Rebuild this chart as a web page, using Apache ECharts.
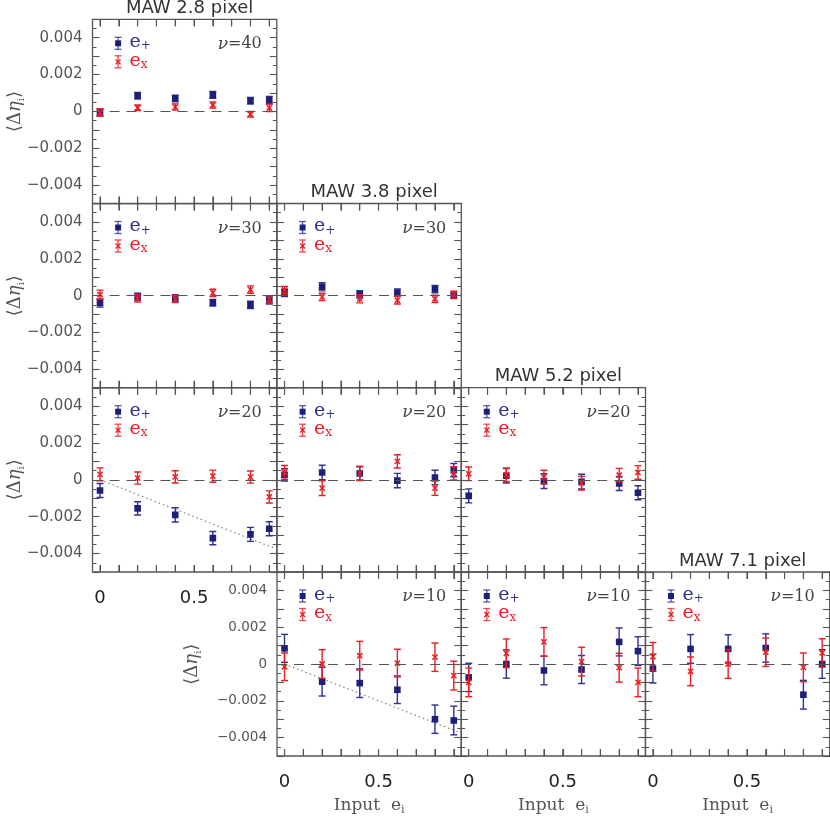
<!DOCTYPE html>
<html>
<head>
<meta charset="utf-8">
<title>MAW ellipticity bias</title>
<script src="https://cdn.jsdelivr.net/npm/echarts@6/dist/echarts.min.js"></script>
<style>
  html, body { margin: 0; padding: 0; background: #fff; }
  #chart { width: 830px; height: 817px; }
</style>
</head>
<body>
<div id="chart"></div>
<script>
// input ellipticity of the simulations
const inputE = [0, 0.2, 0.4, 0.6, 0.8, 0.9]

// axis ticks and tick labels
const xTickValues = [0, 0.1, 0.2, 0.3, 0.4, 0.5, 0.6, 0.7, 0.8, 0.9]
const xLabelValues = [0, 0.5]

// MAW 2.8 pixel, nu = 40
const plus_28_40 = [-0.00005, 0.00085, 0.0007, 0.0009, 0.00058, 0.00062]
const plusErr_28_40 = [0.0002, 0.00018, 0.00018, 0.00018, 0.00018, 0.0002]
const cross_28_40 = [-0.00005, 0.0002, 0.00024, 0.00035, -0.00015, 0.0002]
const crossErr_28_40 = [0.0002, 0.00015, 0.00017, 0.00017, 0.00015, 0.0002]

// MAW 2.8 pixel, nu = 30
const plus_28_30 = [-0.0004, -0.00007, -0.00015, -0.00038, -0.0005, -0.00025]
const plusErr_28_30 = [0.00022, 0.0002, 0.0002, 0.00018, 0.0002, 0.0002]
const cross_28_30 = [0.00005, -0.00015, -0.00018, 0.00015, 0.00033, -0.0002]
const crossErr_28_30 = [0.00025, 0.0002, 0.0002, 0.0002, 0.0002, 0.0002]

// MAW 3.8 pixel, nu = 30
const plus_38_30 = [0.00015, 0.00048, 0.00007, 0.00017, 0.00035, 0]
const plusErr_38_30 = [0.0002, 0.00022, 0.0002, 0.0002, 0.0002, 0.00015]
const cross_38_30 = [0.0003, -0.00007, -0.00017, -0.00025, -0.00017, 0.00004]
const crossErr_38_30 = [0.0002, 0.0002, 0.00022, 0.0002, 0.0002, 0.0002]

// MAW 2.8 pixel, nu = 20
const plus_28_20 = [-0.00058, -0.00155, -0.0019, -0.00316, -0.00296, -0.00265]
const plusErr_28_20 = [0.00038, 0.00036, 0.00039, 0.00036, 0.00038, 0.00038]
const cross_28_20 = [0.0003, 0.0001, 0.00016, 0.0002, 0.00015, -0.00093]
const crossErr_28_20 = [0.00035, 0.00033, 0.00033, 0.00033, 0.00033, 0.00033]

// MAW 3.8 pixel, nu = 20
const plus_38_20 = [0.00027, 0.0004, 0.00035, -0.00004, 0.00013, 0.00053]
const plusErr_38_20 = [0.00033, 0.00039, 0.00036, 0.00039, 0.00039, 0.00036]
const cross_38_20 = [0.0004, -0.00045, 0.00035, 0.001, -0.00045, 0.00035]
const crossErr_38_20 = [0.00038, 0.0004, 0.00039, 0.00036, 0.00039, 0.00036]

// MAW 5.2 pixel, nu = 20
const plus_52_20 = [-0.00087, 0.00022, -0.00007, -0.0001, -0.0002, -0.0007]
const plusErr_52_20 = [0.00038, 0.00039, 0.0004, 0.0004, 0.00038, 0.00038]
const cross_52_20 = [0.00033, 0.00027, 0.00015, -0.00018, 0.00025, 0.0004]
const crossErr_52_20 = [0.00037, 0.00037, 0.00037, 0.00037, 0.00037, 0.00037]

// MAW 3.8 pixel, nu = 10
const plus_38_10 = [0.00085, -0.00096, -0.00104, -0.0014, -0.003, -0.00307]
const plusErr_38_10 = [0.00076, 0.00078, 0.00078, 0.00075, 0.00077, 0.00078]
const cross_38_10 = [-0.00015, 0, 0.00045, 0.00005, 0.00037, -0.00063]
const crossErr_38_10 = [0.00075, 0.00078, 0.00078, 0.00075, 0.00077, 0.00078]

// MAW 5.2 pixel, nu = 10
const plus_52_10 = [-0.00073, 0, -0.00035, -0.0003, 0.0012, 0.0007]
const plusErr_52_10 = [0.00077, 0.00077, 0.00078, 0.00076, 0.00076, 0.00078]
const cross_52_10 = [-0.001, 0.00058, 0.0012, 0.00013, -0.0002, -0.001]
const crossErr_52_10 = [0.00078, 0.00078, 0.00078, 0.00078, 0.00078, 0.00078]

// MAW 7.1 pixel, nu = 10
const plus_71_10 = [-0.00025, 0.00082, 0.00082, 0.00087, -0.00167, 0]
const plusErr_71_10 = [0.00078, 0.00078, 0.00077, 0.00077, 0.00078, 0.00078]
const cross_71_10 = [0.0004, -0.0004, 0, 0.00064, -0.00018, 0.0006]
const crossErr_71_10 = [0.00077, 0.00078, 0.00078, 0.00077, 0.00078, 0.00077]

// dotted reference line drawn in the two low-nu, small-MAW panels
const trendX = [0, 0.94]
const trendY = [0, -0.00376]

// axis ranges
const X_MIN = -0.04
const X_MAX = 0.94
const Y_MIN = -0.005
const Y_MAX = 0.005

// panel layout
const colLeft = [92.5, 277, 461.2, 645.4]
const rowTop = [19.3, 203.5, 387.7, 572]
const SIZE = 184.3

const BLUE = '#2e3192'
const BLUE_DARK = '#1d2077'
const RED = '#ec1c24'
const FRAME = '#555'

const panels = [
  { col: 0, row: 0, maw: '2.8', nu: 40, plus: plus_28_40, plusErr: plusErr_28_40, cross: cross_28_40, crossErr: crossErr_28_40, yLab: 15, title: true },
  { col: 0, row: 1, maw: '2.8', nu: 30, plus: plus_28_30, plusErr: plusErr_28_30, cross: cross_28_30, crossErr: crossErr_28_30, yLab: 15 },
  { col: 1, row: 1, maw: '3.8', nu: 30, plus: plus_38_30, plusErr: plusErr_38_30, cross: cross_38_30, crossErr: crossErr_38_30, title: true },
  { col: 0, row: 2, maw: '2.8', nu: 20, plus: plus_28_20, plusErr: plusErr_28_20, cross: cross_28_20, crossErr: crossErr_28_20, yLab: 15, xLab: true, trend: true },
  { col: 1, row: 2, maw: '3.8', nu: 20, plus: plus_38_20, plusErr: plusErr_38_20, cross: cross_38_20, crossErr: crossErr_38_20 },
  { col: 2, row: 2, maw: '5.2', nu: 20, plus: plus_52_20, plusErr: plusErr_52_20, cross: cross_52_20, crossErr: crossErr_52_20, title: true },
  { col: 1, row: 3, maw: '3.8', nu: 10, plus: plus_38_10, plusErr: plusErr_38_10, cross: cross_38_10, crossErr: crossErr_38_10, yLab: 13.5, xLab: true, xName: true, trend: true },
  { col: 2, row: 3, maw: '5.2', nu: 10, plus: plus_52_10, plusErr: plusErr_52_10, cross: cross_52_10, crossErr: crossErr_52_10, xLab: true, xName: true },
  { col: 3, row: 3, maw: '7.1', nu: 10, plus: plus_71_10, plusErr: plusErr_71_10, cross: cross_71_10, crossErr: crossErr_71_10, xLab: true, xName: true, title: true }
]

const serif = "'DejaVu Serif', 'Liberation Serif', serif"
const sans = "'DejaVu Sans', 'Liberation Sans', sans-serif"

function errRender(kind) {
  return function(params, api) {
    const x = api.value(0)
    const y = api.value(1)
    const e = api.value(2)
    const c = api.coord([x, y])
    const hi = api.coord([x, y + e])
    const lo = api.coord([x, y - e])
    const col = kind === 'plus' ? BLUE : RED
    const st = { stroke: col, lineWidth: 1.4 }
    const kids = [
      { type: 'line', shape: { x1: c[0], y1: hi[1], x2: c[0], y2: lo[1] }, style: st },
      { type: 'line', shape: { x1: c[0] - 3.5, y1: hi[1], x2: c[0] + 3.5, y2: hi[1] }, style: st },
      { type: 'line', shape: { x1: c[0] - 3.5, y1: lo[1], x2: c[0] + 3.5, y2: lo[1] }, style: st }
    ]
    if (kind === 'plus') {
      kids.push({ type: 'rect', shape: { x: c[0] - 3.3, y: c[1] - 3.3, width: 6.6, height: 6.6 }, style: { fill: BLUE_DARK } })
    } else {
      const xs = { stroke: RED, lineWidth: 1.5 }
      kids.push({ type: 'line', shape: { x1: c[0] - 2.6, y1: c[1] - 2.6, x2: c[0] + 2.6, y2: c[1] + 2.6 }, style: xs })
      kids.push({ type: 'line', shape: { x1: c[0] - 2.6, y1: c[1] + 2.6, x2: c[0] + 2.6, y2: c[1] - 2.6 }, style: xs })
    }
    return { type: 'group', children: kids }
  }
}

// inward ticks on the top and bottom frame, placed through the x scale
function xTickRender(params, api) {
  const v = api.value(0)
  const b = api.coord([v, Y_MIN])
  const t = api.coord([v, Y_MAX])
  const st = { stroke: FRAME, lineWidth: 1.1 }
  return {
    type: 'group',
    children: [
      { type: 'line', shape: { x1: b[0], y1: b[1], x2: b[0], y2: b[1] - 7 }, style: st },
      { type: 'line', shape: { x1: t[0], y1: t[1], x2: t[0], y2: t[1] + 7 }, style: st }
    ]
  }
}

function yFormat(v) {
  const k = Math.round(v * 1000)
  if (k % 2 !== 0) return ''
  if (k === 0) return '0'
  return (k < 0 ? '\u2212' : '') + (Math.abs(k) / 1000).toFixed(3)
}

function xFormat(v) {
  if (Math.abs(v) < 1e-9) return '0'
  return String(Math.round(v * 10) / 10)
}

// legend marker with its error bar, drawn in pixels inside a panel
function legendMark(x, y, kind) {
  const col = kind === 'plus' ? BLUE : RED
  const st = { stroke: col, lineWidth: 1.3, opacity: 0.8 }
  const kids = [
    { type: 'line', shape: { x1: x, y1: y - 6, x2: x, y2: y + 6 }, style: st },
    { type: 'line', shape: { x1: x - 3.5, y1: y - 6, x2: x + 3.5, y2: y - 6 }, style: st },
    { type: 'line', shape: { x1: x - 3.5, y1: y + 6, x2: x + 3.5, y2: y + 6 }, style: st }
  ]
  if (kind === 'plus') {
    kids.push({ type: 'rect', shape: { x: x - 3, y: y - 3, width: 6, height: 6 }, style: { fill: BLUE_DARK } })
  } else {
    const xs = { stroke: RED, lineWidth: 1.4 }
    kids.push({ type: 'line', shape: { x1: x - 2.4, y1: y - 2.4, x2: x + 2.4, y2: y + 2.4 }, style: xs })
    kids.push({ type: 'line', shape: { x1: x - 2.4, y1: y + 2.4, x2: x + 2.4, y2: y - 2.4 }, style: xs })
  }
  return kids
}

const grids = []
const xAxes = []
const yAxes = []
const series = []
const graphics = []

panels.forEach(function(p, i) {
  const L = colLeft[p.col]
  const T = rowTop[p.row]
  grids.push({ left: L, top: T, width: SIZE, height: SIZE, show: true, borderColor: FRAME, borderWidth: 1.3 })

  ;['bottom', 'top'].forEach(function(pos) {
    const ax = {
      type: 'value', gridIndex: i, position: pos, min: X_MIN, max: X_MAX,
      axisLine: { show: false, onZero: false }, splitLine: { show: false },
      axisTick: { show: true, inside: true, length: 7, customValues: xTickValues, lineStyle: { color: FRAME, width: 1.1 } },
      axisLabel: { show: false }
    }
    if (pos === 'bottom' && p.xLab) {
      ax.axisLabel = { show: true, margin: 17, color: '#222', fontSize: 18, fontFamily: sans, customValues: xLabelValues, formatter: xFormat }
    }
    if (pos === 'bottom' && p.xName) {
      ax.name = '{a|Input  e}{s|i}'
      ax.nameLocation = 'middle'
      ax.nameGap = 40
      ax.nameTextStyle = {
        color: '#555',
        rich: {
          a: { fontFamily: serif, fontSize: 17, color: '#555', lineHeight: 20, verticalAlign: 'middle' },
          s: { fontFamily: serif, fontSize: 11, color: '#555', lineHeight: 10, verticalAlign: 'bottom' }
        }
      }
    }
    xAxes.push(ax)
  })
  ;['left', 'right'].forEach(function(pos) {
    const ax = {
      type: 'value', gridIndex: i, position: pos, min: Y_MIN, max: Y_MAX, interval: 0.001,
      axisLine: { show: false, onZero: false }, splitLine: { show: false },
      axisTick: { show: true, inside: true, length: 7, lineStyle: { color: FRAME, width: 1.1 } },
      minorTick: { show: true, splitNumber: 2, length: 4, lineStyle: { color: FRAME, width: 1 } },
      axisLabel: { show: false }
    }
    if (pos === 'left' && p.yLab) {
      ax.axisLabel = { show: true, margin: 10, color: '#555', fontSize: p.yLab, fontFamily: sans, formatter: yFormat }
    }
    yAxes.push(ax)
  })

  series.push({
    type: 'custom', xAxisIndex: 2 * i, yAxisIndex: 2 * i, clip: false, silent: true, z: 1,
    renderItem: xTickRender,
    encode: { x: 0 },
    data: xTickValues.map(function(v) { return [v, 0] })
  })
  series.push({
    type: 'custom', xAxisIndex: 2 * i, yAxisIndex: 2 * i, clip: true, z: 3,
    renderItem: errRender('plus'),
    encode: { x: 0, y: 1 },
    data: inputE.map(function(x, k) { return [x, p.plus[k], p.plusErr[k]] }),
    markLine: {
      silent: true, symbol: 'none', label: { show: false },
      lineStyle: { type: [10, 7], color: '#555', width: 1.1 },
      data: [{ yAxis: 0 }]
    }
  })
  series.push({
    type: 'custom', xAxisIndex: 2 * i, yAxisIndex: 2 * i, clip: true, z: 4,
    renderItem: errRender('cross'),
    encode: { x: 0, y: 1 },
    data: inputE.map(function(x, k) { return [x, p.cross[k], p.crossErr[k]] })
  })
  if (p.trend) {
    series.push({
      type: 'line', xAxisIndex: 2 * i, yAxisIndex: 2 * i, z: 2, showSymbol: false, silent: true,
      lineStyle: { type: [1.5, 3], color: '#777', width: 1.1 },
      data: trendX.map(function(x, k) { return [x, trendY[k]] })
    })
  }

  // legend and nu label
  Array.prototype.push.apply(graphics, legendMark(L + 25.6, T + 24, 'plus'))
  Array.prototype.push.apply(graphics, legendMark(L + 25.6, T + 42.5, 'cross'))
  graphics.push({
    type: 'text', x: L + 37, y: T + 23,
    style: {
      text: '{e|e}{s|+}', verticalAlign: 'middle', align: 'left',
      rich: {
        e: { fontFamily: serif, fontSize: 19, fill: BLUE, color: BLUE, lineHeight: 20, verticalAlign: 'middle' },
        s: { fontFamily: serif, fontSize: 12, fill: BLUE, color: BLUE, lineHeight: 10, verticalAlign: 'bottom' }
      }
    }
  })
  graphics.push({
    type: 'text', x: L + 37, y: T + 41.5,
    style: {
      text: '{e|e}{s|x}', verticalAlign: 'middle', align: 'left',
      rich: {
        e: { fontFamily: serif, fontSize: 19, fill: RED, color: RED, lineHeight: 20, verticalAlign: 'middle' },
        s: { fontFamily: serif, fontSize: 12, fill: RED, color: RED, lineHeight: 10, verticalAlign: 'bottom' }
      }
    }
  })
  graphics.push({
    type: 'text', x: L + SIZE - 15, y: T + 25,
    style: {
      text: '{n|\u03bd}{t|=' + p.nu + '}', verticalAlign: 'middle', align: 'right',
      rich: {
        n: { fontFamily: serif, fontStyle: 'italic', fontSize: 17, fill: '#444', color: '#444' },
        t: { fontFamily: serif, fontSize: 16, fill: '#444', color: '#444' }
      }
    }
  })

  if (p.title) {
    graphics.push({
      type: 'text', x: L + SIZE / 2 + 5, y: T - 2,
      style: { text: 'MAW ' + p.maw + ' pixel', align: 'center', verticalAlign: 'bottom', font: '18px ' + sans, fill: '#333' }
    })
  }
  if (p.yLab) {
    const yx = p.col === 0 ? 15 : 192
    graphics.push({
      type: 'text', x: yx, y: T + SIZE / 2, rotation: Math.PI / 2,
      style: {
        text: '{a|\u27e8\u0394}{b|\u03b7}{s|i}{a|\u27e9}', align: 'center', verticalAlign: 'middle',
        rich: {
          a: { fontFamily: serif, fontSize: 18, fill: '#555', color: '#555', lineHeight: 22, verticalAlign: 'middle' },
          b: { fontFamily: serif, fontStyle: 'italic', fontSize: 18, fill: '#555', color: '#555', lineHeight: 22, verticalAlign: 'middle' },
          s: { fontFamily: serif, fontSize: 10, fill: '#555', color: '#555', lineHeight: 10, verticalAlign: 'bottom' }
        }
      }
    })
  }
})

const chart = echarts.init(document.getElementById('chart'), null, { renderer: 'canvas' })
chart.setOption({
  animation: false,
  backgroundColor: '#fff',
  textStyle: { fontFamily: sans },
  grid: grids,
  xAxis: xAxes,
  yAxis: yAxes,
  series: series,
  graphic: graphics
})
</script>
</body>
</html>
